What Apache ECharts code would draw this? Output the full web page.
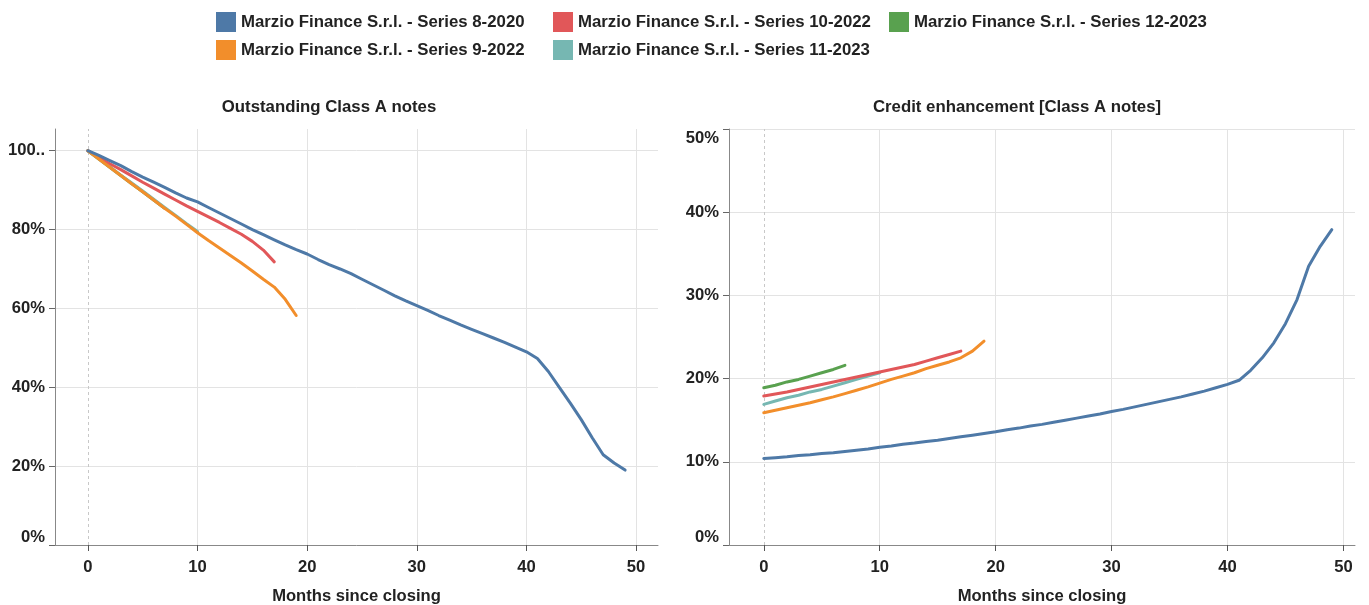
<!DOCTYPE html>
<html>
<head>
<meta charset="utf-8">
<script src="https://cdn.jsdelivr.net/npm/echarts@6/dist/echarts.min.js"></script>
<style>
html,body{margin:0;padding:0;background:#fff;}
#chart{width:1369px;height:605px;}
</style>
</head>
<body>
<div id="chart"></div>
<script>
// ---------- DATA ----------
const seriesNames = [
  'Marzio Finance S.r.l. - Series 8-2020',
  'Marzio Finance S.r.l. - Series 9-2022',
  'Marzio Finance S.r.l. - Series 10-2022',
  'Marzio Finance S.r.l. - Series 11-2023',
  'Marzio Finance S.r.l. - Series 12-2023'
];
const seriesColors = ['#4e79a7', '#f28e2b', '#e15759', '#76b7b2', '#59a14f'];

const xTicks = [0, 10, 20, 30, 40, 50];
const outstandingTicks = [0, 20, 40, 60, 80, 100];
const ceTicks = [0, 10, 20, 30, 40, 50];

// Outstanding Class A notes (% of initial), month 0..n
const outstanding_8_2020 = [100, 98.8, 97.5, 96.2, 94.7, 93.3, 92.0, 90.7, 89.3, 88.0, 87.0, 85.6, 84.2, 82.8, 81.4, 80.0, 78.7, 77.4, 76.1, 74.9, 73.8, 72.4, 71.1, 70.0, 68.8, 67.4, 66.0, 64.6, 63.2, 61.9, 60.7, 59.5, 58.2, 57.0, 55.8, 54.7, 53.6, 52.5, 51.4, 50.2, 49.0, 47.3, 44.0, 40.0, 36.0, 31.8, 27.2, 22.9, 20.8, 19.0];
const outstanding_9_2022 = [100, 97.9, 95.8, 93.7, 91.6, 89.6, 87.5, 85.4, 83.4, 81.3, 79.2, 77.2, 75.3, 73.4, 71.5, 69.5, 67.4, 65.4, 62.3, 58.2];
const outstanding_10_2022 = [100, 98.3, 96.7, 95.2, 93.6, 92.0, 90.5, 89.0, 87.5, 86.0, 84.6, 83.2, 81.8, 80.3, 78.8, 77.0, 74.8, 71.8];
const outstanding_11_2023 = [100, 98.0, 95.9, 93.8, 91.8, 89.8, 87.7, 85.6, 83.6, 81.5, 79.5];
const outstanding_12_2023 = [100, 97.9, 95.8, 93.7, 91.6, 89.6, 87.5, 85.4];

// Credit enhancement [Class A notes] (%), month 0..n
const ce_8_2020 = [10.4, 10.5, 10.6, 10.75, 10.85, 11.0, 11.1, 11.25, 11.4, 11.55, 11.75, 11.9, 12.1, 12.25, 12.45, 12.6, 12.8, 13.0, 13.2, 13.4, 13.6, 13.85, 14.05, 14.3, 14.5, 14.75, 15.0, 15.25, 15.5, 15.75, 16.05, 16.3, 16.6, 16.9, 17.2, 17.5, 17.8, 18.15, 18.5, 18.9, 19.3, 19.8, 21.0, 22.5, 24.3, 26.6, 29.5, 33.5, 35.9, 37.9];
const ce_9_2022 = [15.9, 16.2, 16.5, 16.8, 17.1, 17.45, 17.8, 18.2, 18.6, 19.0, 19.45, 19.9, 20.3, 20.7, 21.2, 21.6, 22.0, 22.5, 23.3, 24.5];
const ce_10_2022 = [17.9, 18.15, 18.4, 18.7, 19.0, 19.3, 19.6, 19.9, 20.2, 20.5, 20.8, 21.1, 21.4, 21.7, 22.1, 22.5, 22.9, 23.3];
const ce_11_2023 = [16.9, 17.3, 17.7, 18.0, 18.4, 18.7, 19.1, 19.5, 19.9, 20.3, 20.7];
const ce_12_2023 = [18.9, 19.2, 19.6, 19.9, 20.3, 20.7, 21.1, 21.6];

const outstandingData = [outstanding_8_2020, outstanding_9_2022, outstanding_10_2022, outstanding_11_2023, outstanding_12_2023];
const ceData = [ce_8_2020, ce_9_2022, ce_10_2022, ce_11_2023, ce_12_2023];

// ---------- CHART ----------
const FONT = 'Liberation Sans, Arial, sans-serif';
const FS = 16.6;
const TXT = '#222';
const chart = echarts.init(document.getElementById('chart'), null, {renderer: 'canvas'});

function toPairs(arr) { return arr.map((v, i) => [i, v]); }
// stacking: higher = drawn on top
const seriesZ = [6, 5, 4, 3, 2];

function xAxisCfg(gridIndex, max) {
  return {
    type: 'value', gridIndex: gridIndex, min: -3, max: max,
    name: 'Months since closing', nameLocation: 'middle', nameGap: 43,
    nameTextStyle: {fontFamily: FONT, fontWeight: 'bold', fontSize: FS, color: TXT},
    axisLine: {show: true, onZero: false, lineStyle: {color: '#888', width: 1}},
    axisTick: {show: true, length: 6, customValues: xTicks, lineStyle: {color: '#555', width: 1}},
    axisLabel: {customValues: xTicks, margin: 14, fontFamily: FONT, fontWeight: 'bold', fontSize: FS, color: TXT},
    splitLine: {show: true, lineStyle: {color: ['rgba(0,0,0,0)', '#e3e3e3', '#e3e3e3', '#e3e3e3', '#e3e3e3', '#e3e3e3'], width: 1}}
  };
}

function yAxisCfg(gridIndex, max, ticks, fmt) {
  return {
    type: 'value', gridIndex: gridIndex, min: 0, max: max,
    axisLine: {show: true, onZero: false, lineStyle: {color: '#888', width: 1}},
    axisTick: {show: true, length: 6, customValues: ticks, lineStyle: {color: '#666', width: 1}},
    axisLabel: {
      customValues: ticks, margin: 10, fontFamily: FONT, fontWeight: 'bold', fontSize: FS, color: TXT,
      formatter: fmt,
      rich: {
        lo: {fontFamily: FONT, fontWeight: 'bold', fontSize: FS, color: TXT, padding: [0, 0, 16, 0]},
        hi: {fontFamily: FONT, fontWeight: 'bold', fontSize: FS, color: TXT, padding: [19, 0, 0, 0]}
      }
    },
    splitLine: {show: true, lineStyle: {color: '#e3e3e3', width: 1}}
  };
}

const series = [];
[outstandingData, ceData].forEach((group, gi) => {
  group.forEach((arr, si) => {
    const s = {
      name: seriesNames[si], type: 'line', xAxisIndex: gi, yAxisIndex: gi,
      data: toPairs(arr), showSymbol: false, symbol: 'none', smooth: false,
      z: seriesZ[si],
      lineStyle: {color: seriesColors[si], width: 3, cap: 'round', join: 'round'},
      itemStyle: {color: seriesColors[si]},
      emphasis: {disabled: true}, animation: false
    };
    if (si === 0) {
      s.markLine = {
        silent: true, symbol: 'none', animation: false, z: 1,
        label: {show: false},
        lineStyle: {color: '#c8c8c8', type: [3, 3], width: 1},
        data: [{xAxis: 0}]
      };
    }
    series.push(s);
  });
});

const legendPos = [
  {left: 216, top: 12}, {left: 216, top: 40}, {left: 553, top: 12}, {left: 553, top: 40}, {left: 889, top: 12}
];
const legends = seriesNames.map((n, i) => ({
  data: [n], left: legendPos[i].left, top: legendPos[i].top, orient: 'horizontal',
  icon: 'rect', itemWidth: 20, itemHeight: 20, itemGap: 0, padding: 0,
  selectedMode: false,
  textStyle: {fontFamily: FONT, fontWeight: 'bold', fontSize: 16.8, color: TXT, padding: [2, 0, 0, 0]}
}));

const option = {
  backgroundColor: '#fff',
  animation: false,
  color: seriesColors,
  legend: legends,
  grid: [
    {left: 55, right: 711, top: 129, bottom: 60, containLabel: false, outerBoundsMode: 'none'},
    {left: 729, right: 14, top: 129, bottom: 60, containLabel: false, outerBoundsMode: 'none'}
  ],
  xAxis: [xAxisCfg(0, 52), xAxisCfg(1, 51)],
  yAxis: [
    yAxisCfg(0, 105.5, outstandingTicks, v => v === 0 ? '{lo|0%}' : (v === 100 ? '100..' : v + '%')),
    yAxisCfg(1, 50, ceTicks, v => v === 0 ? '{lo|0%}' : (v === 50 ? '{hi|50%}' : v + '%'))
  ],
  graphic: [
    {type: 'text', x: 329, y: 107, style: {text: 'Outstanding Class A notes', align: 'center', verticalAlign: 'middle', font: 'bold 16.8px ' + FONT, fill: TXT}},
    {type: 'text', x: 1017, y: 107, style: {text: 'Credit enhancement [Class A notes]', align: 'center', verticalAlign: 'middle', font: 'bold 16.8px ' + FONT, fill: TXT}}
  ],
  series: series
};
chart.setOption(option);
</script>
</body>
</html>
